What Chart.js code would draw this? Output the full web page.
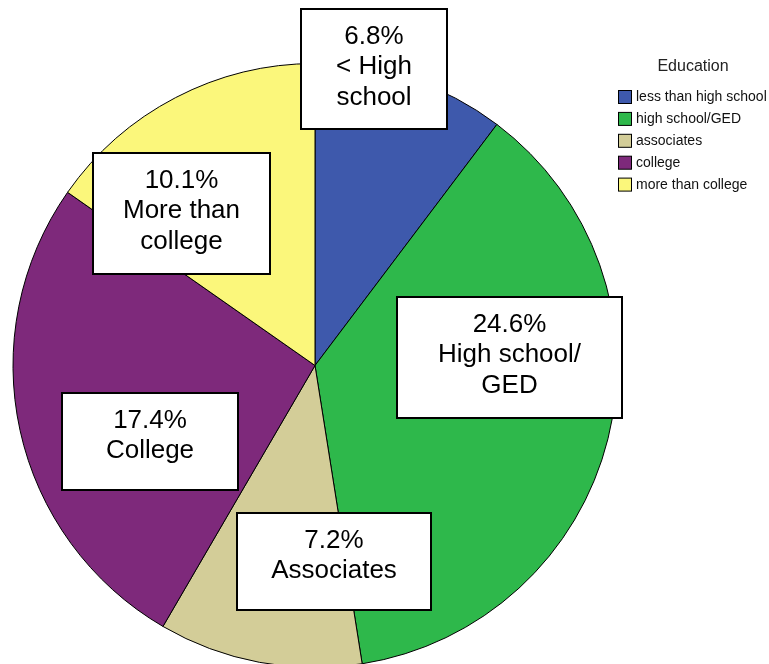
<!DOCTYPE html>
<html>
<head>
<meta charset="utf-8">
<script src="https://cdn.jsdelivr.net/npm/chart.js@4"></script>
<style>
    html, body { margin: 0; padding: 0; background: #fff; overflow: hidden; }
    #wrap { width: 769px; height: 664px; overflow: hidden; }
</style>
</head>
<body>
<div id="wrap">
    <canvas id="eduChart" width="769" height="700"></canvas>
</div>
<script>
// Данные диаграммы
const categories = ['less than high school', 'high school/GED', 'associates', 'college', 'more than college'];
const percents = [6.8, 24.6, 7.2, 17.4, 10.1];
const sliceNames = [['< High', 'school'], ['High school/', 'GED'], ['Associates'], ['College'], ['More than', 'college']];
const sliceColors = ['#3e59ac', '#2eb84b', '#d3cd98', '#7e297b', '#fbf77b'];

// Положение рамок с подписями
const labelBoxes = [
    { x: 301, y: 9, w: 146, h: 120 },
    { x: 397, y: 297, w: 225, h: 121 },
    { x: 237, y: 513, w: 194, h: 97 },
    { x: 62, y: 393, w: 176, h: 97 },
    { x: 93, y: 153, w: 177, h: 121 }
];

// Подписи срезов в белых рамках
const boxLabels = {
    id: 'boxLabels',
    afterDatasetsDraw(chart) {
        const ctx = chart.ctx;
        const values = chart.data.datasets[0].data;
        ctx.save();
        labelBoxes.forEach((b, i) => {
            ctx.fillStyle = '#fff';
            ctx.fillRect(b.x, b.y, b.w, b.h);
            ctx.strokeStyle = '#000';
            ctx.lineWidth = 2;
            ctx.strokeRect(b.x, b.y, b.w, b.h);

            const lines = [values[i].toFixed(1) + '%', ...sliceNames[i]];
            ctx.fillStyle = '#000';
            ctx.font = '26px "Liberation Sans", Arial, sans-serif';
            ctx.textAlign = 'center';
            ctx.textBaseline = 'alphabetic';
            lines.forEach((t, k) => {
                ctx.fillText(t, b.x + b.w / 2, b.y + 34.5 + k * 30.5);
            });
        });
        ctx.restore();
    }
};

// Легенда справа вверху
const sideLegend = {
    id: 'sideLegend',
    afterDraw(chart) {
        const ctx = chart.ctx;
        const ds = chart.data.datasets[0];
        ctx.save();
        ctx.fillStyle = '#222';
        ctx.font = '16px "Liberation Sans", Arial, sans-serif';
        ctx.textAlign = 'center';
        ctx.textBaseline = 'alphabetic';
        ctx.fillText('Education', 693, 71);

        ctx.font = '14px "Liberation Sans", Arial, sans-serif';
        ctx.textAlign = 'left';
        ctx.textBaseline = 'middle';
        chart.data.labels.forEach((label, i) => {
            const cy = 97 + i * 21.9;
            ctx.fillStyle = ds.backgroundColor[i];
            ctx.fillRect(618.5, cy - 6.5, 13, 13);
            ctx.strokeStyle = '#000';
            ctx.lineWidth = 1;
            ctx.strokeRect(618.5, cy - 6.5, 13, 13);
            ctx.fillStyle = '#111';
            ctx.fillText(label, 636, cy + 0.5);
        });
        ctx.restore();
    }
};

const ctx = document.getElementById('eduChart').getContext('2d');
new Chart(ctx, {
    type: 'pie',
    data: {
        labels: categories,
        datasets: [{
            data: percents,
            backgroundColor: sliceColors,
            borderColor: '#000',
            borderWidth: 1
        }]
    },
    options: {
        responsive: false,
        animation: false,
        devicePixelRatio: 1,
        layout: {
            padding: { left: 12, right: 151, top: 63, bottom: 32 }
        },
        plugins: {
            legend: { display: false },
            tooltip: { enabled: false }
        }
    },
    plugins: [boxLabels, sideLegend]
});
</script>
</body>
</html>
